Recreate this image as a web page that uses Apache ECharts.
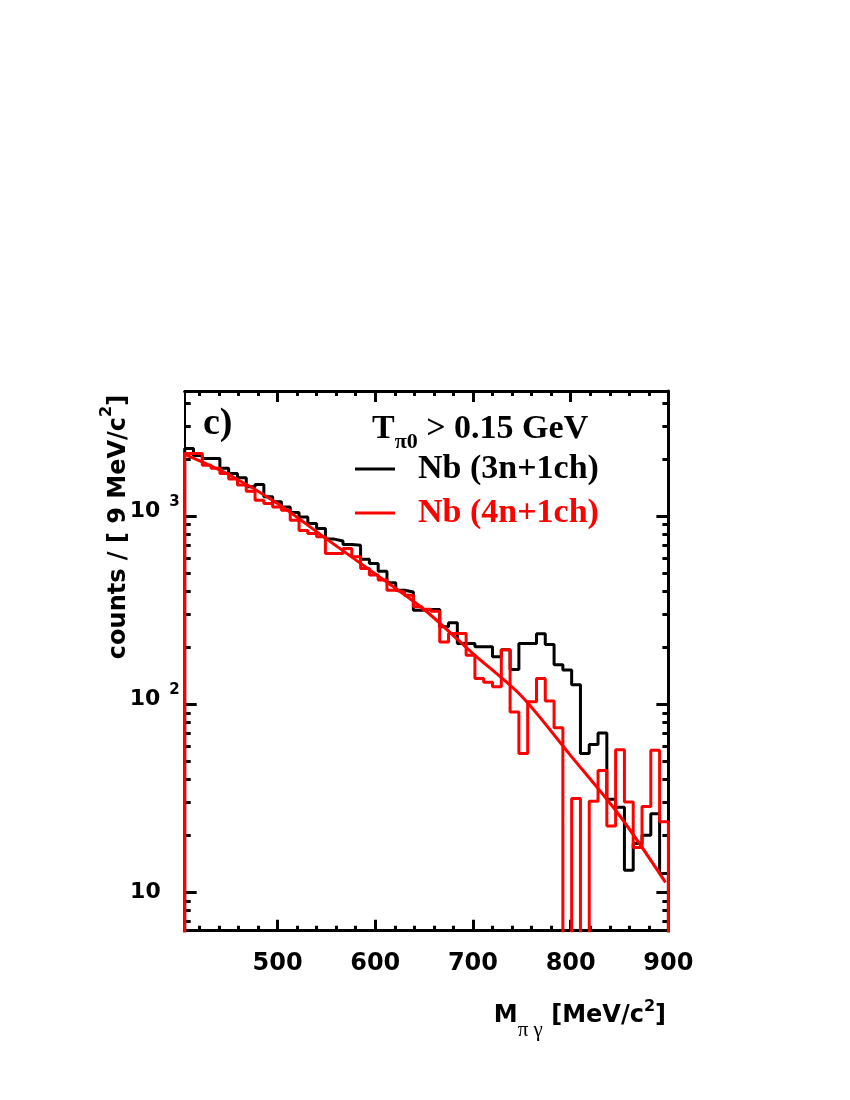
<!DOCTYPE html>
<html>
<head>
<meta charset="utf-8">
<script src="https://cdn.jsdelivr.net/npm/echarts@6/dist/echarts.min.js"></script>
<style>
    html, body { margin: 0; padding: 0; background: #fff; }
    #chart { width: 850px; height: 1100px; }
</style>
</head>
<body>
<div id="chart"></div>
<script>
// histogram bins: 9 MeV wide, first bin starts at 405 MeV
const binStart = 405
const binWidth = 9

// counts per bin, Nb (3n+1ch)
const counts3n = [
    2290, 2100, 2028, 2028, 1795, 1687, 1599, 1432, 1475, 1267,
    1192, 1120, 1046, 990, 914, 860, 755, 737, 707, 700,
    589, 560, 510, 443, 404, 395, 316, 319, 319, 258,
    271, 210, 210, 202, 202, 179, 195, 153, 210, 210,
    237, 208, 162, 152, 127, 54.7, 61, 70.4, 31.2, 28.3,
    13.1, 18.2, 20.1, 26.2, 12.6
]
// counts per bin, Nb (4n+1ch); 0 = empty bin
const counts4n = [
    2150, 2150, 1867, 1795, 1687, 1574, 1462, 1358, 1216, 1168,
    1120, 1076, 952, 840, 809, 776, 633, 633, 673, 608,
    527, 486, 457, 404, 395, 380, 330, 320, 312, 214,
    238, 238, 182, 137, 131, 124, 195, 91, 54.7, 103,
    137, 104, 75, 0, 31.5, 0, 30.5, 44.4, 22.5, 57.2,
    30.2, 17.3, 28.6, 57.0, 23.7
]
// fit curve
const fitMass = [405, 450, 500, 550, 600, 650, 700, 750, 800, 850, 897]
const fitCounts = [2130, 1665, 1168, 757, 493, 319, 186, 110, 53.3, 25.6, 11.3]

const xTicks = [500, 600, 700, 800, 900]
const xMinorTicks = [420, 440, 460, 480, 520, 540, 560, 580, 620, 640, 660, 680, 720, 740, 760, 780, 820, 840, 860, 880]
const yTicks = [10, 100, 1000]
const yMinorTicks = [7, 8, 9, 20, 30, 40, 50, 60, 70, 80, 90, 200, 300, 400, 500, 600, 700, 800, 900, 2000, 3000, 4000]

const xMin = 405
const xMax = 900
const yMin = 6.25
const yMax = 4627

const sansBold = 'DejaVu Sans'

// step outline of a histogram, empty bins fall below the axis
function histLine(counts) {
    const floor = 1
    const pts = [[binStart, floor]]
    counts.forEach((c, i) => pts.push([binStart + i * binWidth, c > 0 ? c : floor]))
    const end = binStart + counts.length * binWidth
    pts.push([end, counts[counts.length - 1] || floor])
    pts.push([end, floor])
    return pts
}

const tickLine = {color: '#000', width: 3}

function xAxisDef(position, major) {
    return {
        type: 'value',
        position: position,
        min: xMin,
        max: xMax,
        axisLine: {show: major, onZero: false, lineStyle: {color: '#000', width: 3}},
        axisTick: {
            show: true,
            inside: true,
            length: major ? 11 : 5,
            customValues: major ? xTicks : xMinorTicks,
            lineStyle: tickLine
        },
        axisLabel: (major && position === 'bottom') ? {
            customValues: xTicks,
            color: '#000',
            fontFamily: sansBold,
            fontWeight: 'bold',
            fontSize: 24,
            margin: 21
        } : {show: false},
        splitLine: {show: false}
    }
}

function yAxisDef(position, major) {
    return {
        type: 'log',
        logBase: 10,
        position: position,
        min: yMin,
        max: yMax,
        axisLine: {show: major, onZero: false, lineStyle: {color: '#000', width: position === 'left' ? 2 : 3}},
        axisTick: {
            show: true,
            inside: true,
            length: major ? 12 : 6,
            customValues: major ? yTicks : yMinorTicks,
            lineStyle: tickLine
        },
        axisLabel: (major && position === 'left') ? {
            customValues: yTicks,
            margin: 5,
            color: '#000',
            formatter: v => {
                const e = Math.round(Math.log10(v))
                return e === 1 ? '{c|10}{e|}' : '{b|10}{s|' + e + '}'
            },
            // all tokens of an exponent label share one height, padding sets the offsets
            rich: {
                c: {fontFamily: sansBold, fontWeight: 'bold', fontSize: 22, lineHeight: 24, color: '#000'},
                e: {width: 19, lineHeight: 24},
                b: {fontFamily: sansBold, fontWeight: 'bold', fontSize: 22, lineHeight: 24,
                    padding: [13, 0, 23, 0], color: '#000'},
                s: {fontFamily: sansBold, fontWeight: 'bold', fontSize: 15, lineHeight: 15,
                    padding: [8, 0, 37, 9], color: '#000'}
            }
        } : {show: false},
        splitLine: {show: false},
        minorTick: {show: false}
    }
}

const chart = echarts.init(document.getElementById('chart'))
const option = {
    backgroundColor: '#fff',
    animation: false,
    grid: {left: 184.7, right: 181.6, top: 391, bottom: 169.3, containLabel: false, outerBoundsMode: 'none'},
    xAxis: [
        xAxisDef('bottom', true),
        xAxisDef('bottom', false),
        xAxisDef('top', true),
        xAxisDef('top', false)
    ],
    yAxis: [
        yAxisDef('left', true),
        yAxisDef('left', false),
        yAxisDef('right', true),
        yAxisDef('right', false)
    ],
    legend: {
        orient: 'vertical',
        left: 355,
        top: 452,
        padding: 0,
        itemWidth: 40,
        itemHeight: 3,
        itemGap: 10,
        icon: 'rect',
        selectedMode: false,
        textStyle: {fontFamily: 'Liberation Serif', fontWeight: 'bold', fontSize: 34, padding: [0, 0, 0, 18]},
        data: [
            {name: 'Nb (3n+1ch)', textStyle: {color: '#000'}},
            {name: 'Nb (4n+1ch)', textStyle: {color: '#ff0000'}}
        ]
    },
    graphic: [
        {
            type: 'text', x: 203, y: 405, z: 10,
            style: {text: 'c)', font: 'bold 38px "Liberation Serif"', fill: '#000', align: 'left', verticalAlign: 'top'}
        },
        {
            type: 'text', x: 372, y: 412, z: 10,
            style: {
                text: '{t|T}{s|π0}{t| > 0.15 GeV}',
                align: 'left',
                verticalAlign: 'top',
                rich: {
                    t: {fontFamily: 'Liberation Serif', fontWeight: 'bold', fontSize: 34, lineHeight: 34, verticalAlign: 'top', fill: '#000'},
                    s: {fontFamily: 'Liberation Serif', fontWeight: 'bold', fontSize: 22, lineHeight: 22, padding: [19, 0, 0, 0], verticalAlign: 'top', fill: '#000'}
                }
            }
        },
        {
            type: 'text', x: 666, y: 996, z: 10,
            style: {
                text: '{m|M}{s|π γ}{m| [MeV/c}{p|2}{m|]}',
                align: 'right',
                verticalAlign: 'top',
                rich: {
                    m: {fontFamily: sansBold, fontWeight: 'bold', fontSize: 24, lineHeight: 26, padding: [8, 0, 0, 0], verticalAlign: 'top', fill: '#000'},
                    s: {fontFamily: 'Liberation Serif', fontSize: 21, lineHeight: 20, padding: [24, 0, 0, 0], verticalAlign: 'top', fill: '#000'},
                    p: {fontFamily: sansBold, fontWeight: 'bold', fontSize: 16, lineHeight: 16, padding: [3, 0, 0, 0], verticalAlign: 'top', fill: '#000'}
                }
            }
        },
        {
            type: 'text', x: 112, y: 527, rotation: Math.PI / 2, z: 10,
            style: {
                text: '{m|counts / [ 9 MeV/c}{p|2}{m|]}',
                align: 'center',
                verticalAlign: 'middle',
                rich: {
                    m: {fontFamily: sansBold, fontWeight: 'bold', fontSize: 24, lineHeight: 26, padding: [8, 0, 0, 0], verticalAlign: 'top', fill: '#000'},
                    p: {fontFamily: sansBold, fontWeight: 'bold', fontSize: 16, lineHeight: 16, verticalAlign: 'top', fill: '#000'}
                }
            }
        }
    ],
    series: [
        {
            name: 'Nb (3n+1ch)',
            type: 'line',
            step: 'end',
            data: histLine(counts3n),
            symbol: 'none',
            clip: true,
            color: '#000',
            lineStyle: {color: '#000', width: 3},
            z: 2
        },
        {
            name: 'Nb (4n+1ch)',
            type: 'line',
            step: 'end',
            data: histLine(counts4n),
            symbol: 'none',
            clip: true,
            color: '#ff0000',
            lineStyle: {color: '#ff0000', width: 3},
            z: 3
        },
        {
            name: 'fit',
            type: 'line',
            smooth: 0.3,
            data: fitMass.map((m, i) => [m, fitCounts[i]]),
            symbol: 'none',
            clip: true,
            color: '#ff0000',
            lineStyle: {color: '#ff0000', width: 3},
            z: 4
        }
    ]
}
chart.setOption(option)
</script>
</body>
</html>
